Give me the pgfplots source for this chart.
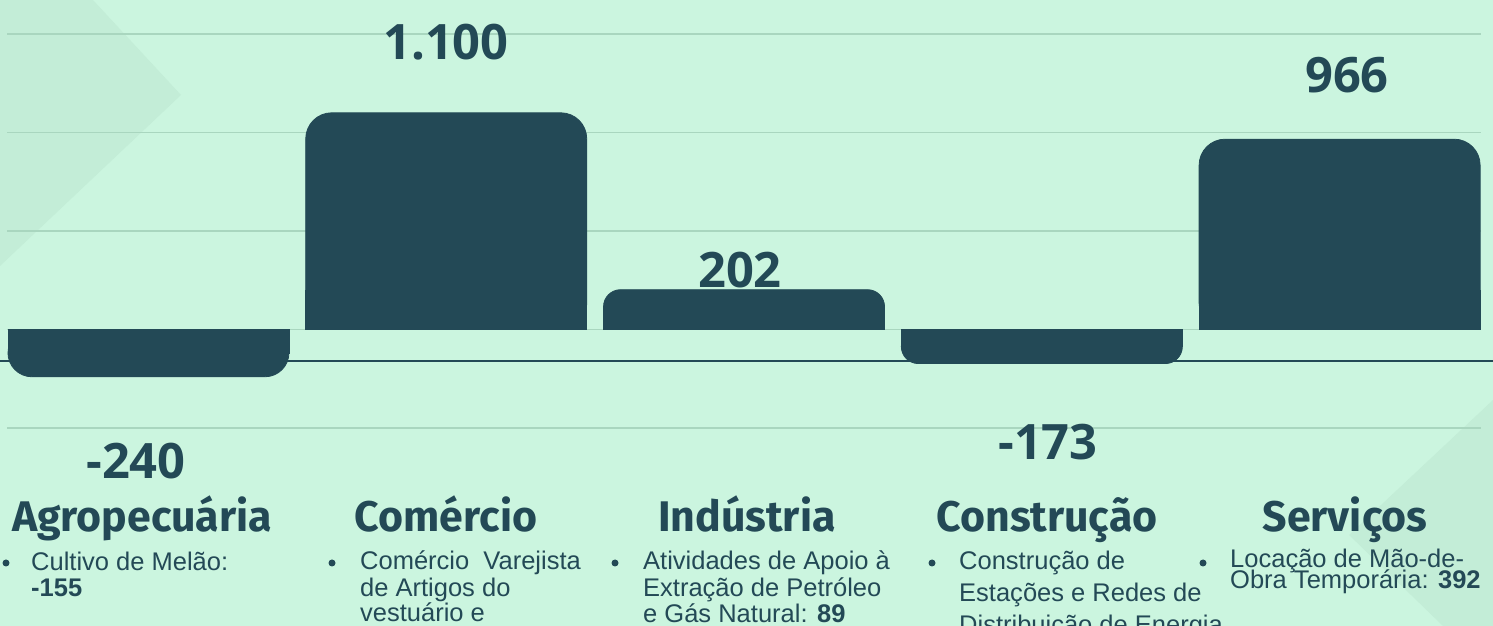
\documentclass[border=0pt]{standalone}
\usepackage{fontspec}
\setmainfont{Liberation Sans}
\newfontfamily\catfont{Fira Sans}
\newfontfamily\valfont{Open Sans}
\usepackage{pgfplots}
\pgfplotsset{compat=1.18}
\definecolor{bgc}{HTML}{CBF5DF}
\definecolor{barc}{HTML}{234956}
\definecolor{tric}{HTML}{C3EDD7}
\definecolor{gridc}{HTML}{A9D6BF}
\pgfplotstableread{
x y
0 -240
1 1100
2 202
3 -173
4 966
}\saldo
\pgfplotsset{mybar/.style={ybar, fill=barc, draw=barc, line width=0.8bp, bar width=281bp, mark=none}}
\newcommand{\bl}[3]{\node[anchor=base west, inner sep=0pt, text=barc, font=\fontsize{25.6}{26}\selectfont] at (#1,#2) {#3};}
\begin{document}
\begin{tikzpicture}[x=1bp,y=1bp]
\clip (0,0) rectangle (1493,626);
\fill[bgc] (0,0) rectangle (1493,626);
\fill[tric] (0,626) -- (93,626) -- (181,531) -- (0,360) -- cycle;
\fill[tric] (1493,226) -- (1349,91) -- (1443,0) -- (1493,0) -- cycle;
\draw[barc, line width=2bp] (0,264.5) -- (1493,264.5);
\begin{axis}[
  at={(7bp,198bp)}, anchor=south west,
  scale only axis, width=1474bp, height=394bp,
  xmin=-0.475, xmax=4.475, ymin=-500, ymax=1500,
  ytick={-500,0,500,1000,1500}, yticklabels={},
  xtick=\empty,
  ymajorgrids,
  major grid style={draw=gridc, line width=1.3bp},
  axis line style={draw=none},
  tick style={draw=none},
  clip=false,
]
% rounded bars
\addplot[mybar, restrict y to domain=300:2000, rounded corners=26bp] table[x=x,y=y] {\saldo};
\addplot[mybar, restrict y to domain=-1000:-200, rounded corners=24bp] table[x=x,y=y] {\saldo};
\addplot[mybar, restrict y to domain=-199:299, rounded corners=17bp] table[x=x,y=y] {\saldo};
% square bases
\begin{scope}
\clip (axis cs:-0.475,0) rectangle (axis cs:4.475,200);
\addplot[mybar, restrict y to domain=300:2000] table[x=x,y=y] {\saldo};
\end{scope}
\begin{scope}
\clip (axis cs:-0.475,-122) rectangle (axis cs:4.475,0);
\addplot[mybar, restrict y to domain=-1000:-200] table[x=x,y=y] {\saldo};
\end{scope}
\begin{scope}
\clip (axis cs:-0.475,-86) rectangle (axis cs:4.475,86);
\addplot[mybar, restrict y to domain=-199:299] table[x=x,y=y] {\saldo};
\end{scope}
\end{axis}
% value labels
\begin{scope}[every node/.style={anchor=base, text=barc, font=\valfont\bfseries\fontsize{49}{49}\selectfont}]
\node at (446,566) {1.100};
\node at (1347,533) {966};
\node at (740,338) {202};
\node at (136,147) {-240};
\node at (1048,166) {-173};
\end{scope}
% category names
\begin{scope}[every node/.style={anchor=base, text=barc, font=\catfont\bfseries\fontsize{43}{43}\selectfont}]
\node at (142,94) {Agropecuária};
\node at (446,94) {Comércio};
\node at (747,94) {Indústria};
\node at (1047,94) {Construção};
\node at (1345,94) {Serviços};
\end{scope}
% bullets
\foreach \bx in {6,332,615,932,1203} {\fill[barc] (\bx,63) circle (3.5);}
\bl{31}{55}{Cultivo de Melão:}
\bl{31}{29}{\textbf{-155}}
\bl{360}{56}{Comércio\ \ Varejista}
\bl{360}{29}{de Artigos do}
\bl{360}{4}{vestuário e}
\bl{643}{56}{Atividades de Apoio à}
\bl{643}{29}{Extração de Petróleo}
\bl{643}{3}{e Gás Natural: \textbf{89}}
\bl{959}{56}{Construção de}
\bl{959}{24}{Estações e Redes de}
\bl{959}{-8}{Distribuição de Energia}
\bl{1230}{58}{Locação de Mão-de-}
\bl{1230}{37}{Obra Temporária: \textbf{392}}
\end{tikzpicture}
\end{document}
